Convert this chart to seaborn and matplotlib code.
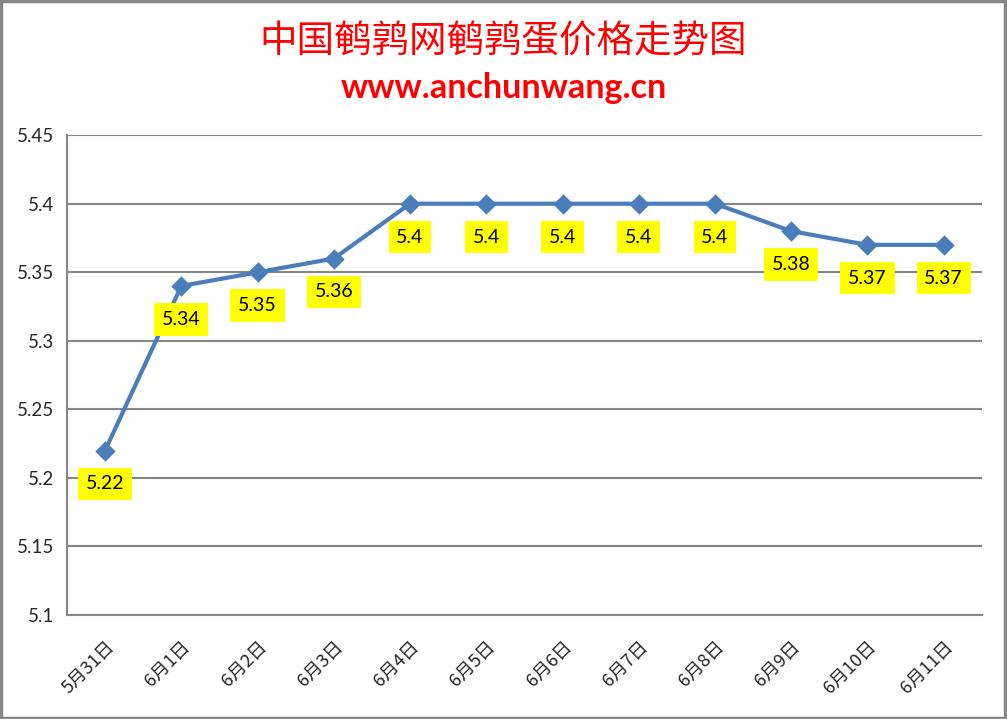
import matplotlib
matplotlib.use('Agg')
import matplotlib.pyplot as plt
import seaborn as sns
import pandas as pd

dates = ['5月31日', '6月1日', '6月2日', '6月3日', '6月4日', '6月5日',
         '6月6日', '6月7日', '6月8日', '6月9日', '6月10日', '6月11日']
prices = [5.22, 5.34, 5.35, 5.36, 5.4, 5.4, 5.4, 5.4, 5.4, 5.38, 5.37, 5.37]
yticks = [5.1, 5.15, 5.2, 5.25, 5.3, 5.35, 5.4, 5.45]
ytick_labels = ['5.1', '5.15', '5.2', '5.25', '5.3', '5.35', '5.4', '5.45']

sns.set_style('white')
plt.rcParams['font.family'] = ['Lato', 'Noto Sans CJK SC', 'DejaVu Sans']

df = pd.DataFrame({'date': dates, 'price': prices})

fig = plt.figure(figsize=(10.07, 7.19), dpi=100)
ax = fig.add_axes([0.0665, 0.1446, 0.9085, 0.6674])

# 网格线
for y in yticks:
    ax.axhline(y, color='#868686', lw=1.5, zorder=0)

sns.pointplot(data=df, x='date', y='price', ax=ax, color='#4A7EBB',
              markers='D', markersize=8, linewidth=3, errorbar=None)

for i, v in enumerate(prices):
    ax.annotate(f'{v:g}', (i, v), xytext=(0, -24), textcoords='offset points',
                ha='center', va='center', fontsize=14, color='black',
                bbox=dict(boxstyle='square,pad=0.4', fc='#FFFF00', ec='none'))

ax.set_ylim(5.1, 5.45)
ax.set_xlim(-0.5, len(dates) - 0.5)
ax.set_yticks(yticks)
ax.set_yticklabels(ytick_labels, fontsize=13.5)
ax.set_xticks(range(len(dates)))
ax.set_xticklabels(dates, rotation=45, ha='right', rotation_mode='anchor',
                   fontsize=13, family=['Noto Sans CJK SC'])
ax.set_xlabel('')
ax.set_ylabel('')
ax.tick_params(axis='x', length=0, pad=16)
ax.tick_params(axis='y', length=0, pad=9)

for s in ['top', 'right']:
    ax.spines[s].set_visible(False)
ax.spines['left'].set_color('#868686')
ax.spines['left'].set_linewidth(1.5)
ax.spines['bottom'].set_color('#868686')
ax.spines['bottom'].set_linewidth(1.5)

fig.text(0.5, 0.942, '中国鹌鹑网鹌鹑蛋价格走势图', ha='center', va='center',
         fontsize=27, color='red', family=['Noto Sans CJK SC'])
fig.text(0.5, 0.878, 'www.anchunwang.cn', ha='center', va='center',
         fontsize=24.5, color='red', fontweight='bold')

# 外框
fig.patches.append(plt.Rectangle((0.001, 0.001), 0.997, 0.997, transform=fig.transFigure,
                                 fill=False, ec='#868686', lw=2.5))

fig.savefig('out.png', dpi=100)
